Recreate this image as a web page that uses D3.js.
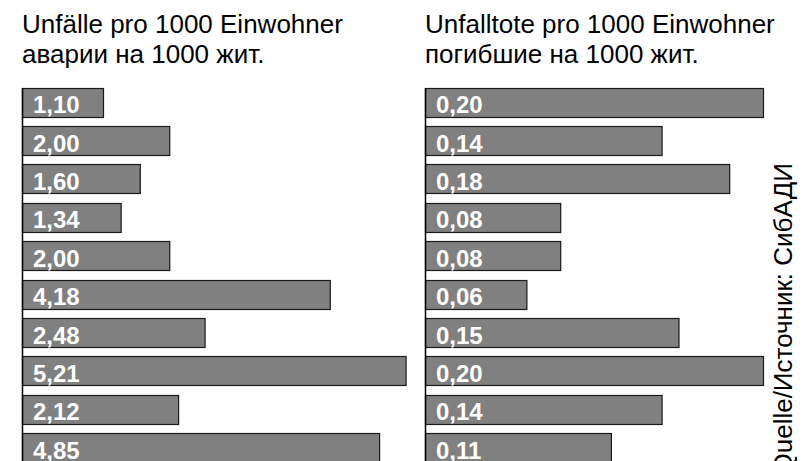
<!DOCTYPE html>
<html>
<head>
<meta charset="utf-8">
<script src="https://cdn.jsdelivr.net/npm/d3@7/dist/d3.min.js"></script>
<style>
  html, body { margin: 0; padding: 0; background: #fff; }
  svg { display: block; font-family: "Liberation Sans", Arial, sans-serif; }
</style>
</head>
<body>
<svg id="chart" width="810" height="461"></svg>
<script>
// Data (rows top to bottom)
const accidents = [1.10, 2.00, 1.60, 1.34, 2.00, 4.18, 2.48, 5.21, 2.12, 4.85];
const fatalities = [0.20, 0.14, 0.18, 0.08, 0.08, 0.06, 0.15, 0.20, 0.14, 0.11];
const titlesLeft = ["Unfälle pro 1000 Einwohner", "аварии на 1000 жит."];
const titlesRight = ["Unfalltote pro 1000 Einwohner", "погибшие на 1000 жит."];
const sourceText = "Quelle/Источник: СибАДИ";

const svg = d3.select("#chart");
const locale = d3.formatLocale({decimal: ",", thousands: ".", grouping: [3], currency: ["", ""]});
const fmt = locale.format(".2f");

const y = d3.scaleBand()
  .domain(d3.range(accidents.length))
  .range([87.7, 462])
  .paddingInner(0.2526)
  .paddingOuter(0);

const xL = d3.scaleLinear().domain([0, 5.21]).range([22, 405.6]);
const xR = d3.scaleLinear().domain([0, 0.20]).range([425, 763]);

function panel(values, x, titles) {
  const g = svg.append("g");
  const x0 = x(0);
  // titles
  titles.forEach((t, i) => {
    g.append("text")
      .attr("x", x0)
      .attr("y", 33.3 + i * 30)
      .attr("font-size", 26)
      .attr("fill", "#000")
      .text(t);
  });
  // bars
  g.selectAll("rect.bar")
    .data(values)
    .join("rect")
    .attr("class", "bar")
    .attr("x", x0 + 0.5)
    .attr("y", (d, i) => Math.round(y(i)) + 0.5)
    .attr("width", d => x(d) - x0)
    .attr("height", Math.round(y.bandwidth()))
    .attr("fill", "#808080")
    .attr("stroke", "#1a1a1a")
    .attr("stroke-width", 1.2);
  // axis line
  g.append("line")
    .attr("x1", x0 + 0.5).attr("x2", x0 + 0.5)
    .attr("y1", Math.round(y(0))).attr("y2", 461)
    .attr("stroke", "#000").attr("stroke-width", 1.5);
  // labels
  g.selectAll("text.lbl")
    .data(values)
    .join("text")
    .attr("class", "lbl")
    .attr("x", x0 + 11)
    .attr("y", (d, i) => y(i) + 25.5)
    .attr("font-size", 24)
    .attr("font-weight", "bold")
    .attr("fill", "#fff")
    .text(d => fmt(d));
}

panel(accidents, xL, titlesLeft);
panel(fatalities, xR, titlesRight);

// source text rotated
svg.append("text")
  .attr("transform", "translate(792,163) rotate(-90)")
  .attr("text-anchor", "end")
  .attr("font-size", 26)
  .attr("fill", "#000")
  .text(sourceText);
</script>
</body>
</html>
